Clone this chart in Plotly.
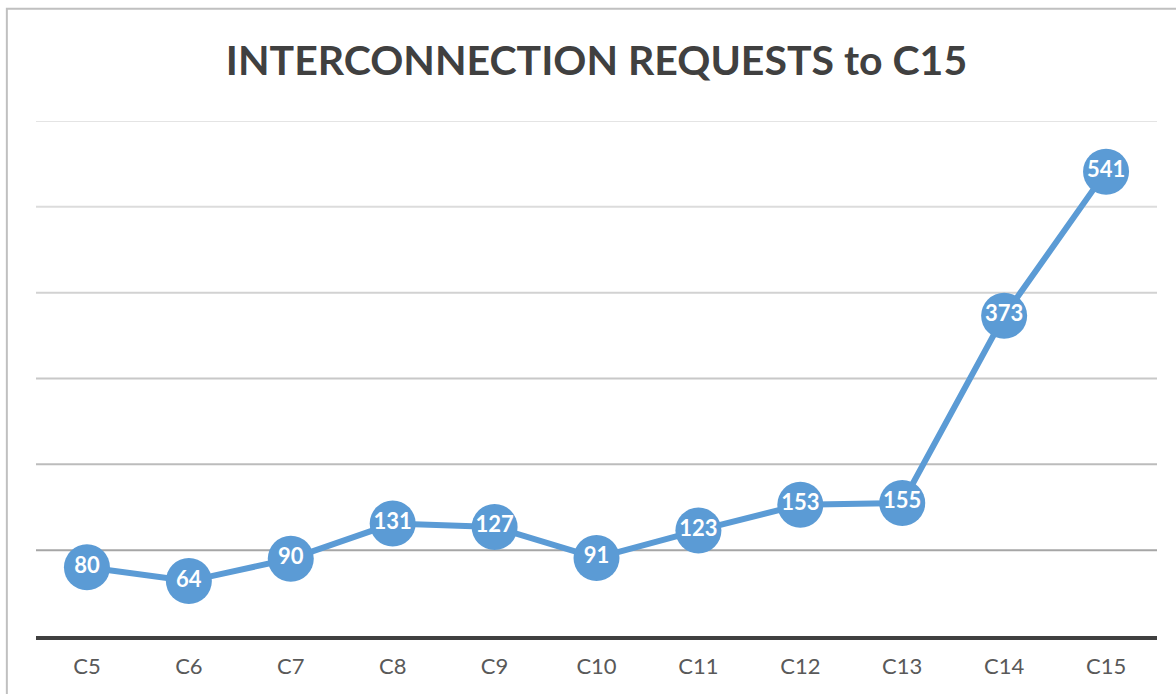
import plotly.graph_objects as go

cycles = ["C5", "C6", "C7", "C8", "C9", "C10", "C11", "C12", "C13", "C14", "C15"]
requests = [80, 64, 90, 131, 127, 91, 123, 153, 155, 373, 541]
grid_levels = [100, 200, 300, 400, 500, 600]
grid_colors = ["#a6a6a6", "#bcbcbc", "#c8c8c8", "#d2d2d2", "#dcdcdc", "#e4e4e4"]

blue = "#5b9bd5"

fig = go.Figure()
fig.add_trace(go.Scatter(
    x=cycles, y=requests, mode="lines+markers+text",
    line=dict(color=blue, width=6),
    marker=dict(color=blue, size=46),
    text=[str(v) for v in requests], textposition="middle center",
    textfont=dict(family="Lato", size=22, color="white", weight="bold"),
    cliponaxis=False, hoverinfo="skip"
))

# gridlines, lighter towards the top
for lvl, col in zip(grid_levels, grid_colors):
    fig.add_shape(type="line", xref="paper", yref="y", x0=0, x1=1, y0=lvl, y1=lvl,
                  line=dict(color=col, width=2), layer="below")

# chart border (cut off at right and bottom)
fig.add_shape(type="rect", xref="paper", yref="paper",
              x0=-0.026, x1=1.2, y0=-0.5, y1=1.218,
              line=dict(color="#c0c0c0", width=2))

fig.update_layout(
    title=dict(text="<b>INTERCONNECTION REQUESTS to C15</b>", xref="paper", x=0.5,
               xanchor="center", y=0.913, yanchor="middle",
               font=dict(family="Lato", size=41, color="#404040")),
    width=1176, height=694,
    margin=dict(l=36, r=19, t=121, b=58),
    plot_bgcolor="white", paper_bgcolor="white",
    showlegend=False,
    xaxis=dict(showgrid=False, showline=True, linecolor="#404040", linewidth=4,
               ticks="", ticklabelstandoff=8,
               tickfont=dict(family="Lato", size=22, color="#595959"),
               range=[-0.5, 10.5]),
    yaxis=dict(range=[0, 600], showgrid=False, zeroline=False, showticklabels=False),
)

# drop the default page margin so the figure sits at the window's corner
fig.write_html("out.html", config={"displayModeBar": False},
               post_script="document.body.style.margin='0';")
